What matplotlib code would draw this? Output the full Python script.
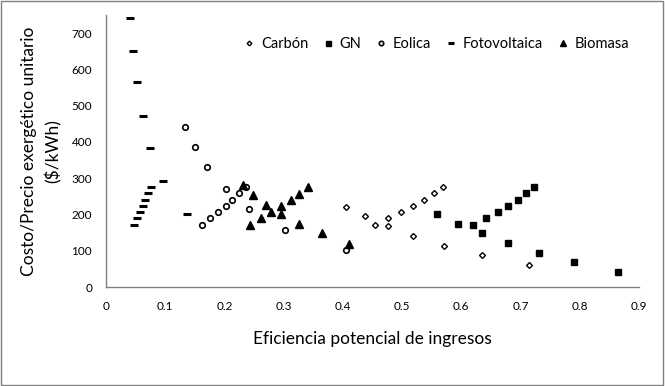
import matplotlib
matplotlib.use("Agg")
import matplotlib.pyplot as plt
from matplotlib.patches import Rectangle

# Data
carbon_x = [0.406, 0.438, 0.454, 0.477, 0.476, 0.498, 0.519, 0.537, 0.554, 0.569, 0.519, 0.571, 0.635, 0.714]
carbon_y = [220, 195, 170, 189, 167, 206, 222, 239, 258, 275, 140, 112, 87, 60]
gn_x = [0.559, 0.595, 0.620, 0.635, 0.641, 0.662, 0.679, 0.696, 0.709, 0.723, 0.679, 0.731, 0.791, 0.864]
gn_y = [200, 173, 170, 148, 189, 206, 222, 239, 258, 275, 120, 93, 68, 40]
eolica_x = [0.133, 0.150, 0.171, 0.162, 0.175, 0.189, 0.202, 0.213, 0.225, 0.237, 0.202, 0.242, 0.303, 0.405]
eolica_y = [440, 387, 330, 171, 190, 207, 224, 240, 259, 276, 270, 215, 157, 102]
foto_x = [0.041, 0.045, 0.052, 0.062, 0.075, 0.047, 0.052, 0.058, 0.063, 0.066, 0.071, 0.076, 0.097, 0.136]
foto_y = [741, 651, 564, 472, 384, 172, 190, 207, 224, 241, 259, 276, 293, 202]
bio_x = [0.231, 0.248, 0.243, 0.261, 0.270, 0.278, 0.296, 0.296, 0.312, 0.326, 0.341, 0.326, 0.364, 0.411]
bio_y = [280, 253, 170, 189, 227, 206, 222, 201, 239, 257, 275, 173, 149, 119]

x_ticks = [0, 0.1, 0.2, 0.3, 0.4, 0.5, 0.6, 0.7, 0.8, 0.9]
x_ticklabels = ["0", "0.1", "0.2", "0.3", "0.4", "0.5", "0.6", "0.7", "0.8", "0.9"]
y_ticks = [0, 100, 200, 300, 400, 500, 600, 700]

plt.rcParams['font.family'] = ['Lato', 'DejaVu Sans']

fig = plt.figure(figsize=(6.65, 3.86), dpi=100)
ax = fig.add_axes([106/665, 1-287/386, (639-106)/665, (287-15)/386])

ax.plot(carbon_x, carbon_y, linestyle='none', marker='D', ms=3, mfc='white', mec='black', mew=1.0, label='Carbón')
ax.plot(gn_x, gn_y, linestyle='none', marker='s', ms=4.5, mfc='black', mec='black', label='GN')
ax.plot(eolica_x, eolica_y, linestyle='none', marker='o', ms=4, mfc='white', mec='black', mew=1.2, label='Eolica')
ax.plot(foto_x, foto_y, linestyle='none', marker='_', ms=5.5, mec='black', mew=2.2, label='Fotovoltaica')
ax.plot(bio_x, bio_y, linestyle='none', marker='^', ms=5.5, mfc='black', mec='black', label='Biomasa')

ax.set_xlim(0, 0.9)
ax.set_ylim(0, 750)
ax.set_xticks(x_ticks)
ax.set_xticklabels(x_ticklabels)
ax.set_yticks(y_ticks)
ax.tick_params(axis='x', length=0, labelsize=8.5, pad=10)
ax.tick_params(axis='y', length=0, labelsize=8.5, pad=10)
for s in ['top', 'right']:
    ax.spines[s].set_visible(False)
for s in ['left', 'bottom']:
    ax.spines[s].set_color('#808080')
    ax.spines[s].set_linewidth(1.0)

ax.set_xlabel('Eficiencia potencial de ingresos', fontsize=12.5, labelpad=14)
ax.set_ylabel('Costo/Precio exergético unitario\n($/kWh)', fontsize=12.5, labelpad=7, linespacing=1.55)

leg = ax.legend(loc='center left', bbox_to_anchor=(0.25, 0.893), ncol=5, frameon=False,
                borderaxespad=0, fontsize=10.5, handlelength=0.6, handletextpad=0.5,
                columnspacing=1.05, markerscale=0.8)

fig.patches.append(Rectangle((0.002, 0.003), 0.995, 0.994, transform=fig.transFigure,
                             fill=False, edgecolor='#808080', linewidth=1.0))

fig.savefig('out.png', dpi=100)
